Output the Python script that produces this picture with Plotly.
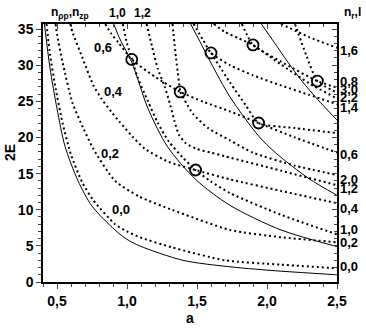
import plotly.graph_objects as go

# solid curves (a, 2E)
s1_a = [0.41, 0.45, 0.5, 0.557, 0.65, 0.75, 0.914, 1.0, 1.09, 1.4, 1.736, 2.1, 2.5]
s1_e = [35.7, 29.6, 24.0, 18.8, 14.0, 10.5, 7.2, 5.9, 5.0, 3.0, 2.1, 1.5, 1.0]
s2_a = [0.905, 0.95, 1.034, 1.15, 1.29, 1.49, 1.736, 2.1, 2.5]
s2_e = [35.7, 33.6, 30.4, 24.0, 18.7, 14.2, 10.6, 7.2, 4.9]
s3_a = [1.455, 1.52, 1.6, 1.736, 1.94, 2.06, 2.3, 2.5]
s3_e = [35.7, 33.3, 30.3, 25.6, 20.2, 17.9, 14.3, 12.0]
s4_a = [1.96, 2.05, 2.15, 2.25, 2.36, 2.5]
s4_e = [35.7, 33.2, 30.4, 27.8, 25.3, 22.4]

# dotted curves
d00_a = [0.425, 0.45, 0.49, 0.54, 0.6, 0.68, 0.76, 0.914, 1.0, 1.09, 1.32, 1.7, 2.1, 2.5]
d00_e = [35.7, 31.5, 26.8, 22.0, 17.6, 13.8, 11.3, 8.0, 7.0, 6.2, 4.8, 3.0, 2.4, 1.9]
d02_a = [0.49, 0.5, 0.54, 0.61, 0.69, 0.76, 0.914, 1.09, 1.32, 1.736, 2.1, 2.5]
d02_e = [35.7, 34.3, 30.4, 24.8, 21.2, 18.4, 14.0, 11.8, 10.0, 7.2, 6.2, 5.5]
d04_a = [0.595, 0.61, 0.68, 0.76, 0.82, 0.89, 0.95, 1.04, 1.13, 1.3, 1.49, 1.736, 2.1, 2.5]
d04_e = [35.7, 34.6, 31.1, 27.2, 25.3, 23.5, 22.1, 20.1, 18.4, 16.6, 15.5, 14.2, 12.6, 10.9]
d06_a = [0.845, 0.89, 0.94, 1.034, 1.2, 1.38, 1.55, 1.736, 1.94, 2.2, 2.5]
d06_e = [35.7, 34.3, 33.1, 30.8, 28.4, 26.3, 24.9, 23.6, 22.0, 20.0, 17.9]
d10_a = [0.97, 1.0, 1.034, 1.07, 1.15, 1.22, 1.3, 1.4, 1.49, 1.6, 1.736, 2.1, 2.5]
d10_e = [35.7, 33.0, 31.0, 28.6, 25.0, 22.0, 19.4, 17.2, 15.5, 13.9, 12.3, 9.3, 6.6]
d12_a = [1.14, 1.18, 1.22, 1.27, 1.31, 1.34, 1.37, 1.42, 1.5, 1.6, 1.7, 2.1, 2.5]
d12_e = [35.7, 32.5, 29.5, 27.0, 24.4, 22.2, 20.4, 19.2, 18.4, 17.9, 17.4, 15.4, 13.4]
t13_a = [1.325, 1.35, 1.38]
t13_e = [35.7, 31.0, 26.3]
d20_a = [1.38, 1.47, 1.58, 1.736, 1.9, 2.2, 2.5]
d20_e = [26.3, 23.3, 21.3, 19.6, 17.9, 16.1, 14.8]
d14_a = [1.475, 1.54, 1.6, 1.736, 1.9, 2.1, 2.3, 2.5]
d14_e = [35.7, 33.6, 31.7, 30.0, 28.6, 27.2, 25.9, 24.6]
ddc_a = [1.6, 1.736, 1.85, 1.94, 2.2, 2.5]
ddc_e = [31.7, 27.6, 24.4, 22.0, 21.3, 20.6]
d22_a = [1.62, 1.7, 1.8, 1.9, 2.1, 2.3, 2.5]
d22_e = [35.7, 34.6, 33.7, 32.8, 30.1, 27.5, 25.4]
d08_a = [1.82, 1.86, 1.9, 2.1, 2.36, 2.5]
d08_e = [35.7, 34.1, 32.8, 30.5, 27.8, 26.9]
d30_a = [2.2, 2.28, 2.36, 2.5]
d30_e = [35.7, 31.4, 27.8, 26.2]
d16_a = [2.1, 2.3, 2.5]
d16_e = [35.7, 33.9, 32.4]

# circled points
circ_a = [1.034, 1.38, 1.49, 1.6, 1.9, 1.94, 2.36]
circ_e = [30.8, 26.3, 15.5, 31.7, 32.8, 22.0, 27.8]

# labels
right_labels = ['1,6', '0,8', '3,0', '2,2', '1,4', '0,6', '2,0', '1,2', '0,4', '1,0', '0,2', '0,0']
right_label_e = [32.1, 27.8, 26.7, 25.5, 24.2, 17.6, 14.2, 12.9, 10.2, 7.3, 5.4, 2.2]
inner_labels = ['0,6', '0,4', '0,2', '0,0']
inner_label_a = [0.83, 0.9, 0.88, 0.96]
inner_label_e = [32.4, 26.3, 17.8, 10.1]
top_labels = ['n<sub>ρp</sub>,n<sub>zp</sub>', '1,0', '1,2', 'n<sub>r</sub>,l']
top_label_a = [0.59, 0.93, 1.11, 2.61]

x_ticks = [0.5, 1.0, 1.5, 2.0, 2.5]
x_ticktext = ['0,5', '1,0', '1,5', '2,0', '2,5']
y_ticks = [0, 5, 10, 15, 20, 25, 30, 35]

X0, X1 = 0.4, 2.5
Y0, Y1 = 0, 35.7
FONT = 'Liberation Sans, Arial, sans-serif'

fig = go.Figure()

for a, e in [(s1_a, s1_e), (s2_a, s2_e), (s3_a, s3_e), (s4_a, s4_e)]:
    fig.add_trace(go.Scatter(x=a, y=e, mode='lines', hoverinfo='skip',
                             line=dict(color='black', width=1, shape='spline', smoothing=0.8)))

dotted = [(d00_a, d00_e), (d02_a, d02_e), (d04_a, d04_e), (d06_a, d06_e),
          (d10_a, d10_e), (d12_a, d12_e), (t13_a, t13_e), (d20_a, d20_e),
          (d14_a, d14_e), (ddc_a, ddc_e), (d22_a, d22_e), (d08_a, d08_e),
          (d30_a, d30_e), (d16_a, d16_e)]
for a, e in dotted:
    fig.add_trace(go.Scatter(x=a, y=e, mode='lines', hoverinfo='skip',
                             line=dict(color='black', width=2, dash='2px,3px',
                                       shape='spline', smoothing=0.6)))

fig.add_trace(go.Scatter(x=circ_a, y=circ_e, mode='markers', hoverinfo='skip',
                         marker=dict(symbol='circle-open', size=11, color='black',
                                     line=dict(width=1.8, color='black'))))

# mirrored axes with inward ticks on top/right
fig.add_trace(go.Scatter(x=[None], y=[None], xaxis='x2', yaxis='y2', hoverinfo='skip'))


def px(a):
    return (a - X0) / (X1 - X0)


def py(e):
    return (e - Y0) / (Y1 - Y0)


annotations = []
for t, e in zip(right_labels, right_label_e):
    annotations.append(dict(xref='paper', yref='paper', x=1, y=py(e), text=t,
                            xanchor='left', yanchor='middle', xshift=1, showarrow=False,
                            font=dict(size=13)))
for t, a, e in zip(inner_labels, inner_label_a, inner_label_e):
    annotations.append(dict(x=a, y=e, text=t, showarrow=False, font=dict(size=13)))
for t, a in zip(top_labels, top_label_a):
    annotations.append(dict(xref='paper', yref='paper', x=px(a), y=1, yshift=11,
                            xanchor='center', yanchor='middle',
                            text=t, showarrow=False, font=dict(size=12)))
annotations.append(dict(xref='paper', yref='paper', x=0.5, y=0, yshift=-36,
                        xanchor='center', yanchor='middle', text='a', showarrow=False))
annotations.append(dict(xref='paper', yref='paper', x=0, y=0.5, xshift=-33,
                        xanchor='center', yanchor='middle',
                        text='2E', textangle=-90, showarrow=False))

axis_common = dict(showline=True, linewidth=1.5, linecolor='black', showgrid=False,
                   zeroline=False, automargin=False, tickwidth=1, ticklen=5)

fig.update_layout(
    width=366, height=332,
    margin=dict(l=43, r=29, t=24, b=50, pad=0),
    paper_bgcolor='white', plot_bgcolor='white',
    showlegend=False,
    font=dict(family=FONT, size=14, color='black', weight='bold'),
    annotations=annotations,
    xaxis=dict(range=[X0, X1], tickvals=x_ticks, ticktext=x_ticktext, ticks='outside',
               minor=dict(tickmode='linear', tick0=0, dtick=0.1, ticks='outside', ticklen=3),
               **axis_common),
    yaxis=dict(range=[Y0, Y1], tickvals=y_ticks, ticks='outside',
               minor=dict(tickmode='linear', tick0=0, dtick=1, ticks='outside', ticklen=3),
               **axis_common),
    xaxis2=dict(range=[X0, X1], overlaying='x', side='top', tickvals=x_ticks,
                showticklabels=False, ticks='inside',
                minor=dict(tickmode='linear', tick0=0, dtick=0.1, ticks='inside', ticklen=3),
                **axis_common),
    yaxis2=dict(range=[Y0, Y1], overlaying='y', side='right', tickvals=y_ticks,
                showticklabels=False, ticks='inside',
                minor=dict(tickmode='linear', tick0=0, dtick=1, ticks='inside', ticklen=3),
                **axis_common),
)

fig.write_html("out.html", config={'displayModeBar': False},
               post_script="document.body.style.margin='0';document.body.style.padding='0';")
